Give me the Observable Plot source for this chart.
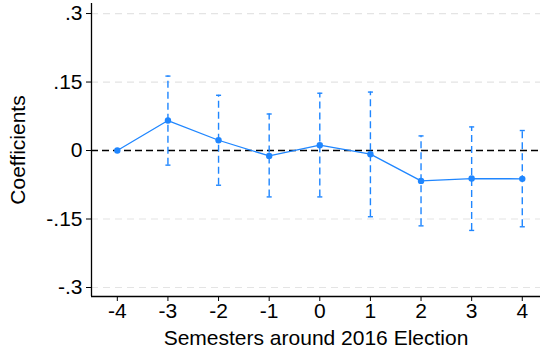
<!DOCTYPE html>
<html>
<head>
<meta charset="utf-8">
<script src="https://cdn.jsdelivr.net/npm/d3@7"></script>
<script src="https://cdn.jsdelivr.net/npm/@observablehq/plot@0.6"></script>
<style>
  html, body { margin: 0; padding: 0; background: #fff; }
  #chart svg { display: block; }
</style>
</head>
<body>
<div id="chart"></div>
<script>
const semesters = [-4, -3, -2, -1, 0, 1, 2, 3, 4];
const coef  = [0, 0.0657, 0.0225, -0.0118, 0.0116, -0.008, -0.0665, -0.0614, -0.062];
const ciLow = [null, -0.032, -0.076, -0.1016, -0.1016, -0.145, -0.165, -0.175, -0.167];
const ciHigh = [null, 0.163, 0.121, 0.080, 0.1255, 0.128, 0.032, 0.0517, 0.0438];
const yTicks = [-0.3, -0.15, 0, 0.15, 0.3];
const yTickLabels = ["-.3", "-.15", "0", ".15", ".3"];
const xTickLabels = ["-4", "-3", "-2", "-1", "0", "1", "2", "3", "4"];
const gridValues = [-0.3, -0.15, 0.15, 0.3];
const xDomain = [-4.51, 4.36];
const yDomain = [-0.3197, 0.322];

const data = semesters.map((s, i) => ({x: s, y: coef[i], lo: ciLow[i], hi: ciHigh[i]}));
const ciData = data.filter(d => d.lo != null);
const blue = "#1f86ff";
const capHalf = 0.05;

const chart = Plot.plot({
  width: 540,
  height: 352,
  marginLeft: 91,
  marginRight: 0,
  marginTop: 3,
  marginBottom: 56,
  style: {fontFamily: "'Liberation Sans', Arial, sans-serif", fontSize: "21px", color: "#000", background: "#fff"},
  x: {domain: xDomain},
  y: {domain: yDomain},
  marks: [
    Plot.gridY(gridValues, {stroke: "#e4e4e4", strokeOpacity: 1, strokeDasharray: "7,5", strokeWidth: 1.2}),
    Plot.ruleY([0], {stroke: "#000", strokeDasharray: "7,4", strokeWidth: 1.4}),
    Plot.ruleX(ciData, {x: "x", y1: "lo", y2: "hi", stroke: blue, strokeWidth: 1.4, strokeDasharray: "7,4"}),
    Plot.link(ciData, {x1: d => d.x - capHalf, x2: d => d.x + capHalf, y1: "hi", y2: "hi", stroke: blue, strokeWidth: 1.4}),
    Plot.link(ciData, {x1: d => d.x - capHalf, x2: d => d.x + capHalf, y1: "lo", y2: "lo", stroke: blue, strokeWidth: 1.4}),
    Plot.line(data, {x: "x", y: "y", stroke: blue, strokeWidth: 1.3}),
    Plot.dot(data, {x: "x", y: "y", fill: blue, r: 3.2, stroke: "none"}),
    Plot.ruleX([xDomain[0]], {stroke: "#000", strokeWidth: 1.3}),
    Plot.ruleY([yDomain[0]], {stroke: "#000", strokeWidth: 1.3}),
    Plot.axisY({
      ticks: yTicks,
      tickFormat: (d, i) => yTickLabels[yTicks.indexOf(d)],
      tickSize: 5,
      tickPadding: 4,
      fontSize: 21,
      label: "Coefficients",
      labelAnchor: "center",
      labelArrow: "none",
      labelOffset: 81
    }),
    Plot.axisX({
      ticks: semesters,
      tickFormat: d => xTickLabels[semesters.indexOf(d)],
      tickSize: 5,
      tickPadding: 2,
      fontSize: 21,
      label: "Semesters around 2016 Election",
      labelAnchor: "center",
      labelArrow: "none",
      labelOffset: 48
    })
  ]
});
document.getElementById("chart").appendChild(chart);
</script>
</body>
</html>
